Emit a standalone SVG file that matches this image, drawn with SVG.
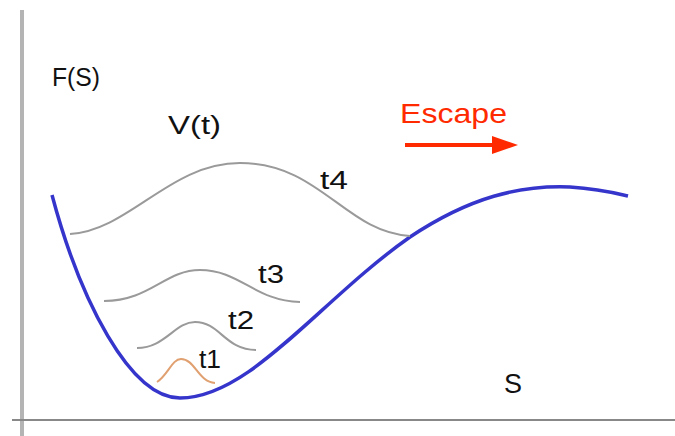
<svg xmlns="http://www.w3.org/2000/svg" width="675" height="436" viewBox="0 0 675 436">
<style>
text{font-family:"Liberation Sans",Arial,sans-serif;fill:#111}
.w{fill:none;stroke:#9a9a9a;stroke-width:2}
</style>
<defs>
<marker id="ah" markerWidth="26" markerHeight="18" refX="1" refY="9" orient="auto" markerUnits="userSpaceOnUse" viewBox="0 0 26 18">
<path d="M0,0 L26,9 L0,18 Z" fill="#ff2a00"/>
</marker>
</defs>
<rect width="675" height="436" fill="#fff"/>
<g id="axes">
<line x1="22" y1="10" x2="22" y2="436" stroke="#b4b4b4" stroke-width="4"/>
<line x1="12" y1="420" x2="675" y2="420" stroke="#888" stroke-width="2"/>
</g>
<g id="landscape">
<path d="M52,195 C80,300 130,398 180,398 C250,398 320,300 410,237 C470,197 520,185 570,187 C600,189 615,193 628,196" fill="none" stroke="#3535cc" stroke-width="3.5"/>
</g>
<g id="waves">
<path class="w" d="M70,234 C130,230 170,163 240,163 C320,163 345,232 410,236"/>
<path class="w" d="M104,301 C150,301 165,270 200,270 C240,270 255,301 300,302"/>
<path class="w" d="M137,348 C165,348 175,322 195,322 C220,322 225,350 256,350"/>
<path d="M157,382 C168,375 172,359 181,359 C195,359 198,382 215,383" fill="none" stroke="#e0a070" stroke-width="2"/>
</g>
<g id="labels">
<text x="52" y="86" font-size="26" textLength="48" lengthAdjust="spacingAndGlyphs">F(S)</text>
<text x="168" y="134" font-size="25" textLength="53" lengthAdjust="spacingAndGlyphs">V(t)</text>
<text x="320" y="189" font-size="26" textLength="28" lengthAdjust="spacingAndGlyphs">t4</text>
<text x="258" y="283" font-size="26" textLength="26" lengthAdjust="spacingAndGlyphs">t3</text>
<text x="228" y="329" font-size="26" textLength="26" lengthAdjust="spacingAndGlyphs">t2</text>
<text x="199" y="368" font-size="26" textLength="22" lengthAdjust="spacingAndGlyphs">t1</text>
<text x="504" y="393" font-size="27">S</text>
</g>
<g id="escape">
<text x="400" y="123" font-size="28" style="fill:#ff2a00" textLength="107" lengthAdjust="spacingAndGlyphs">Escape</text>
<line x1="405" y1="145" x2="493" y2="145" stroke="#ff2a00" stroke-width="4" marker-end="url(#ah)"/>
</g>
</svg>
